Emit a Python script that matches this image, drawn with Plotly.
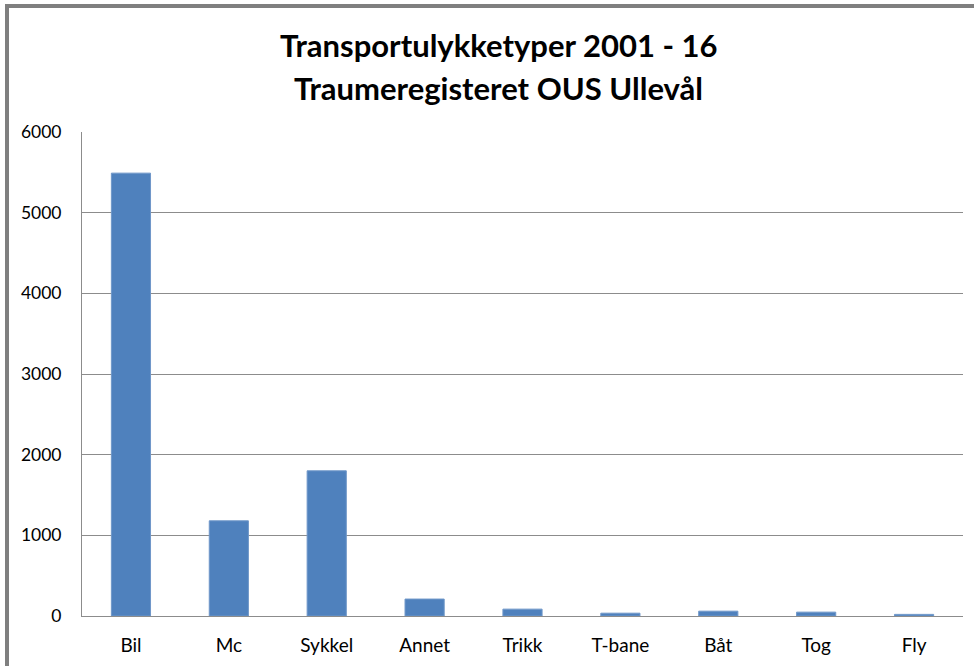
import plotly.graph_objects as go

categories = ["Bil", "Mc", "Sykkel", "Annet", "Trikk", "T-bane", "Båt", "Tog", "Fly"]
values = [5490, 1180, 1800, 210, 85, 35, 60, 48, 20]
y_ticks = [0, 1000, 2000, 3000, 4000, 5000, 6000]
title_line1 = "Transportulykketyper 2001 - 16"
title_line2 = "Traumeregisteret OUS Ullevål"

W, H = 974, 666
L, R, T, B = 82, 11, 132, 50
pw = W - L - R
ph = H - T - B

font_family = "Lato, Liberation Sans, sans-serif"

fig = go.Figure(go.Bar(
    x=categories, y=values,
    marker=dict(color="#4F81BD", line=dict(color="#6f97c9", width=1)),
    width=0.4,
))

fig.update_layout(
    width=W, height=H,
    margin=dict(l=L, r=R, t=T, b=B),
    paper_bgcolor="white", plot_bgcolor="white",
    showlegend=False,
    font=dict(family=font_family, color="#000000", size=17),
    xaxis=dict(
        showgrid=False, showline=True, linecolor="#8c8c8c", linewidth=1,
        ticks="", tickfont=dict(size=19), ticklabelstandoff=12,
    ),
    yaxis=dict(
        range=[0, 6000], tickvals=y_ticks, showgrid=True,
        gridcolor="#8c8c8c", gridwidth=1, showline=True, linecolor="#8c8c8c",
        linewidth=1, ticks="", tickfont=dict(size=17.5), ticklabelstandoff=16,
        zeroline=False,
    ),
)

fig.add_annotation(text=f"<b>{title_line1}</b>", xref="paper", yref="paper",
                   x=(498 - L) / pw, y=(H - B - 45) / ph, showarrow=False,
                   font=dict(size=31, family=font_family), xanchor="center", yanchor="middle")
fig.add_annotation(text=f"<b>{title_line2}</b>", xref="paper", yref="paper",
                   x=(498 - L) / pw, y=(H - B - 88) / ph, showarrow=False,
                   font=dict(size=31, family=font_family), xanchor="center", yanchor="middle")

# outer chart frame (top and left edges visible); right/bottom edges lie outside the window
fx0 = (7 - L) / pw
fy_top = (H - B - 6) / ph
fy_bot = (H - B - 700) / ph
fx1 = (1010 - L) / pw
fig.add_shape(type="rect", xref="paper", yref="paper", x0=fx0, x1=fx1, y0=fy_bot, y1=fy_top,
              line=dict(color="#7f7f7f", width=4), fillcolor="rgba(0,0,0,0)", layer="above")

fig.write_html("out.html", config={"displayModeBar": False},
               post_script="document.body.style.margin='0';document.body.style.overflow='hidden';")
